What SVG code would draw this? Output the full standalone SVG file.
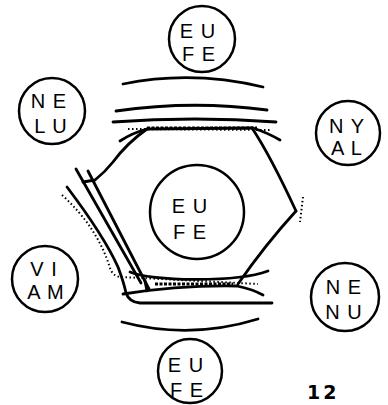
<svg xmlns="http://www.w3.org/2000/svg" width="388" height="405" viewBox="0 0 388 405">
<style>
.c{fill:none;stroke:#000;stroke-width:2.5}
.t{font-family:"Liberation Sans","DejaVu Sans",sans-serif;font-size:20px;letter-spacing:1px;fill:#000;text-anchor:middle}
.l{fill:none;stroke:#000;stroke-width:2.8;stroke-linecap:round;stroke-linejoin:round}
.d{fill:none;stroke:#000;stroke-width:2;stroke-dasharray:1.5 2.5}
.h{fill:none;stroke:#000;stroke-width:3.2;stroke-dasharray:3 1.5}
</style>
<rect width="388" height="405" fill="#fff"/>
<g id="connectors">
<path class="l" d="M123,84 Q192,70 263,87"/>
<path class="l" d="M116,111 Q192,100 267,110"/>
<path class="l" d="M113,122 Q195,116 276,122"/>
<path class="d" d="M128,129 L270,130"/>
<path class="h" d="M147,128 L257,128"/>
<path class="l" d="M120,141 Q132,133 147,129 L253,128 Q268,133 280,140"/>
<path class="l" d="M83,182 L95,180 Q105,172 113,162 Q127,143 147,129"/>
<path class="l" d="M252,128 Q270,155 296,211"/>
<path class="d" d="M303,197 L300,222"/>
<path class="l" d="M296,211 Q265,245 238,284"/>
<path class="l" d="M130,272 C150,281 235,283 268,271"/>
<path class="d" d="M62,195 Q98,228 110,268 Q113,277 122,277 L258,284"/>
<path class="h" d="M155,284 L233,284"/>
<path class="l" d="M123,294 Q180,285 237,286 Q252,289 263,295"/>
<path class="l" d="M67,187 Q104,236 118,267 Q124,283 126,293 Q129,302 140,303 L272,303"/>
<path class="l" d="M122,322 Q190,340 258,319"/>
<path class="l" d="M76,169 L141,283"/>
<path class="l" d="M88,171 L149,289"/>
<path class="l" d="M145,281 L147,291"/>
</g>
<g id="n-top"><circle class="c" cx="202" cy="39" r="33"/><text class="t" x="198" y="38">E U</text><text class="t" x="199" y="61">F E</text></g>
<g id="n-nelu"><circle class="c" cx="52" cy="111" r="33"/><text class="t" x="49" y="108">N E</text><text class="t" x="51" y="133">L U</text></g>
<g id="n-nyal"><circle class="c" cx="348" cy="133" r="32"/><text class="t" x="347" y="133">N Y</text><text class="t" x="347" y="155">A L</text></g>
<g id="n-center"><circle class="c" cx="197" cy="212" r="47"/><text class="t" x="190" y="213">E U</text><text class="t" x="190" y="239">F E</text></g>
<g id="n-viam"><circle class="c" cx="45" cy="279" r="33"/><text class="t" x="44" y="276">V I</text><text class="t" x="46" y="299">A M</text></g>
<g id="n-nenu"><circle class="c" cx="345" cy="297" r="34"/><text class="t" x="344" y="294">N E</text><text class="t" x="344" y="319">N U</text></g>
<g id="n-bottom"><circle class="c" cx="190" cy="371" r="32"/><text class="t" x="186" y="372">E U</text><text class="t" x="187" y="397">F E</text></g>
<text x="307" y="399" style="font-family:'DejaVu Sans',sans-serif;font-size:19px;font-weight:bold;letter-spacing:3px">12</text>
</svg>
